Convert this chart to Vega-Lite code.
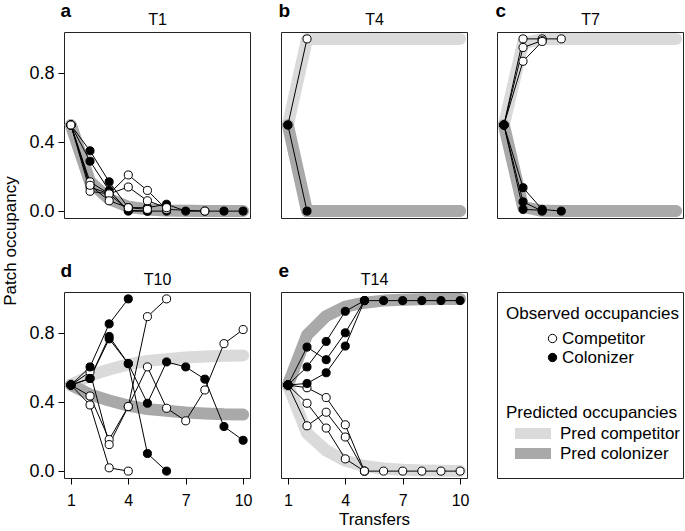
{
"$schema": "https://vega.github.io/schema/vega-lite/v6.json",
"padding": {"left": 2, "top": 0, "right": 2, "bottom": 2},
"background": "white",
"config": {
  "font": "Liberation Sans",
  "view": {"stroke": "#222", "strokeWidth": 1},
  "axis": {"labelColor": "black", "titleColor": "black", "tickColor": "black", "tickWidth": 1, "grid": false, "titleFontWeight": 400},
  "axisTop": {"titleFontSize": 16, "titleFontWeight": 400},
  "legend": {"labelColor": "black", "titleColor": "black"},
  "title": {"color": "black"}
},
"title": {"text": "Patch occupancy", "orient": "left", "anchor": "middle", "fontSize": 17, "fontWeight": "normal", "offset": 8, "dx": 23},
"columns": 3,
"spacing": {"row": 39, "column": 24},
"datasets": {
"pred": [
{"p":"T1","s":"Pred competitor","x":1,"y":0.5},{"p":"T1","s":"Pred competitor","x":2,"y":0.17},{"p":"T1","s":"Pred competitor","x":3,"y":0.07},{"p":"T1","s":"Pred competitor","x":4,"y":0.025},{"p":"T1","s":"Pred competitor","x":5,"y":0.01},{"p":"T1","s":"Pred competitor","x":6,"y":0.004},{"p":"T1","s":"Pred competitor","x":7,"y":0.002},{"p":"T1","s":"Pred competitor","x":8,"y":0.001},{"p":"T1","s":"Pred competitor","x":9,"y":0},{"p":"T1","s":"Pred competitor","x":10,"y":0},
{"p":"T1","s":"Pred colonizer","x":1,"y":0.5},{"p":"T1","s":"Pred colonizer","x":2,"y":0.17},{"p":"T1","s":"Pred colonizer","x":3,"y":0.07},{"p":"T1","s":"Pred colonizer","x":4,"y":0.025},{"p":"T1","s":"Pred colonizer","x":5,"y":0.01},{"p":"T1","s":"Pred colonizer","x":6,"y":0.004},{"p":"T1","s":"Pred colonizer","x":7,"y":0.002},{"p":"T1","s":"Pred colonizer","x":8,"y":0.001},{"p":"T1","s":"Pred colonizer","x":9,"y":0},{"p":"T1","s":"Pred colonizer","x":10,"y":0},
{"p":"T4","s":"Pred competitor","x":1,"y":0.5},{"p":"T4","s":"Pred competitor","x":2,"y":1},{"p":"T4","s":"Pred competitor","x":3,"y":1},{"p":"T4","s":"Pred competitor","x":4,"y":1},{"p":"T4","s":"Pred competitor","x":5,"y":1},{"p":"T4","s":"Pred competitor","x":6,"y":1},{"p":"T4","s":"Pred competitor","x":7,"y":1},{"p":"T4","s":"Pred competitor","x":8,"y":1},{"p":"T4","s":"Pred competitor","x":9,"y":1},{"p":"T4","s":"Pred competitor","x":10,"y":1},
{"p":"T4","s":"Pred colonizer","x":1,"y":0.5},{"p":"T4","s":"Pred colonizer","x":2,"y":0},{"p":"T4","s":"Pred colonizer","x":3,"y":0},{"p":"T4","s":"Pred colonizer","x":4,"y":0},{"p":"T4","s":"Pred colonizer","x":5,"y":0},{"p":"T4","s":"Pred colonizer","x":6,"y":0},{"p":"T4","s":"Pred colonizer","x":7,"y":0},{"p":"T4","s":"Pred colonizer","x":8,"y":0},{"p":"T4","s":"Pred colonizer","x":9,"y":0},{"p":"T4","s":"Pred colonizer","x":10,"y":0},
{"p":"T7","s":"Pred competitor","x":1,"y":0.5},{"p":"T7","s":"Pred competitor","x":2,"y":0.975},{"p":"T7","s":"Pred competitor","x":3,"y":0.998},{"p":"T7","s":"Pred competitor","x":4,"y":1},{"p":"T7","s":"Pred competitor","x":5,"y":1},{"p":"T7","s":"Pred competitor","x":6,"y":1},{"p":"T7","s":"Pred competitor","x":7,"y":1},{"p":"T7","s":"Pred competitor","x":8,"y":1},{"p":"T7","s":"Pred competitor","x":9,"y":1},{"p":"T7","s":"Pred competitor","x":10,"y":1},
{"p":"T7","s":"Pred colonizer","x":1,"y":0.5},{"p":"T7","s":"Pred colonizer","x":2,"y":0.025},{"p":"T7","s":"Pred colonizer","x":3,"y":0.002},{"p":"T7","s":"Pred colonizer","x":4,"y":0},{"p":"T7","s":"Pred colonizer","x":5,"y":0},{"p":"T7","s":"Pred colonizer","x":6,"y":0},{"p":"T7","s":"Pred colonizer","x":7,"y":0},{"p":"T7","s":"Pred colonizer","x":8,"y":0},{"p":"T7","s":"Pred colonizer","x":9,"y":0},{"p":"T7","s":"Pred colonizer","x":10,"y":0},
{"p":"T10","s":"Pred competitor","x":1,"y":0.5},{"p":"T10","s":"Pred competitor","x":2,"y":0.555},{"p":"T10","s":"Pred competitor","x":3,"y":0.59},{"p":"T10","s":"Pred competitor","x":4,"y":0.62},{"p":"T10","s":"Pred competitor","x":5,"y":0.64},{"p":"T10","s":"Pred competitor","x":6,"y":0.65},{"p":"T10","s":"Pred competitor","x":7,"y":0.66},{"p":"T10","s":"Pred competitor","x":8,"y":0.665},{"p":"T10","s":"Pred competitor","x":9,"y":0.67},{"p":"T10","s":"Pred competitor","x":10,"y":0.672},
{"p":"T10","s":"Pred colonizer","x":1,"y":0.5},{"p":"T10","s":"Pred colonizer","x":2,"y":0.445},{"p":"T10","s":"Pred colonizer","x":3,"y":0.41},{"p":"T10","s":"Pred colonizer","x":4,"y":0.38},{"p":"T10","s":"Pred colonizer","x":5,"y":0.36},{"p":"T10","s":"Pred colonizer","x":6,"y":0.35},{"p":"T10","s":"Pred colonizer","x":7,"y":0.34},{"p":"T10","s":"Pred colonizer","x":8,"y":0.335},{"p":"T10","s":"Pred colonizer","x":9,"y":0.33},{"p":"T10","s":"Pred colonizer","x":10,"y":0.328},
{"p":"T14","s":"Pred competitor","x":1,"y":0.5},{"p":"T14","s":"Pred competitor","x":2,"y":0.22},{"p":"T14","s":"Pred competitor","x":3,"y":0.12},{"p":"T14","s":"Pred competitor","x":4,"y":0.06},{"p":"T14","s":"Pred competitor","x":5,"y":0.03},{"p":"T14","s":"Pred competitor","x":6,"y":0.015},{"p":"T14","s":"Pred competitor","x":7,"y":0.008},{"p":"T14","s":"Pred competitor","x":8,"y":0.004},{"p":"T14","s":"Pred competitor","x":9,"y":0.002},{"p":"T14","s":"Pred competitor","x":10,"y":0.001},
{"p":"T14","s":"Pred colonizer","x":1,"y":0.5},{"p":"T14","s":"Pred colonizer","x":2,"y":0.79},{"p":"T14","s":"Pred colonizer","x":3,"y":0.9},{"p":"T14","s":"Pred colonizer","x":4,"y":0.955},{"p":"T14","s":"Pred colonizer","x":5,"y":0.978},{"p":"T14","s":"Pred colonizer","x":6,"y":0.99},{"p":"T14","s":"Pred colonizer","x":7,"y":0.995},{"p":"T14","s":"Pred colonizer","x":8,"y":0.998},{"p":"T14","s":"Pred colonizer","x":9,"y":0.999},{"p":"T14","s":"Pred colonizer","x":10,"y":1}
],
"obs": [
{"p":"T1","s":"Colonizer","r":1,"x":1,"y":0.5},{"p":"T1","s":"Colonizer","r":1,"x":2,"y":0.35},{"p":"T1","s":"Colonizer","r":1,"x":3,"y":0.17},{"p":"T1","s":"Colonizer","r":1,"x":4,"y":0.02},{"p":"T1","s":"Colonizer","r":1,"x":5,"y":0.02},{"p":"T1","s":"Colonizer","r":1,"x":6,"y":0.04},{"p":"T1","s":"Colonizer","r":1,"x":7,"y":0},{"p":"T1","s":"Colonizer","r":1,"x":8,"y":0},{"p":"T1","s":"Colonizer","r":1,"x":9,"y":0},{"p":"T1","s":"Colonizer","r":1,"x":10,"y":0},
{"p":"T1","s":"Colonizer","r":2,"x":1,"y":0.5},{"p":"T1","s":"Colonizer","r":2,"x":2,"y":0.29},{"p":"T1","s":"Colonizer","r":2,"x":3,"y":0.12},{"p":"T1","s":"Colonizer","r":2,"x":4,"y":0},{"p":"T1","s":"Colonizer","r":2,"x":5,"y":0},{"p":"T1","s":"Colonizer","r":2,"x":6,"y":0},
{"p":"T1","s":"Colonizer","r":3,"x":1,"y":0.5},{"p":"T1","s":"Colonizer","r":3,"x":2,"y":0.14},{"p":"T1","s":"Colonizer","r":3,"x":3,"y":0.1},{"p":"T1","s":"Colonizer","r":3,"x":4,"y":0.005},{"p":"T1","s":"Colonizer","r":3,"x":5,"y":0},
{"p":"T1","s":"Competitor","r":1,"x":1,"y":0.5},{"p":"T1","s":"Competitor","r":1,"x":2,"y":0.17},{"p":"T1","s":"Competitor","r":1,"x":3,"y":0.1},{"p":"T1","s":"Competitor","r":1,"x":4,"y":0.21},{"p":"T1","s":"Competitor","r":1,"x":5,"y":0.12},{"p":"T1","s":"Competitor","r":1,"x":6,"y":0.01},{"p":"T1","s":"Competitor","r":1,"x":8,"y":0},
{"p":"T1","s":"Competitor","r":2,"x":1,"y":0.5},{"p":"T1","s":"Competitor","r":2,"x":2,"y":0.115},{"p":"T1","s":"Competitor","r":2,"x":3,"y":0.1},{"p":"T1","s":"Competitor","r":2,"x":4,"y":0.14},{"p":"T1","s":"Competitor","r":2,"x":5,"y":0.06},{"p":"T1","s":"Competitor","r":2,"x":6,"y":0.02},
{"p":"T1","s":"Competitor","r":3,"x":1,"y":0.5},{"p":"T1","s":"Competitor","r":3,"x":2,"y":0.15},{"p":"T1","s":"Competitor","r":3,"x":3,"y":0.06},{"p":"T1","s":"Competitor","r":3,"x":4,"y":0.02},{"p":"T1","s":"Competitor","r":3,"x":5,"y":0.01},
{"p":"T4","s":"Competitor","r":1,"x":1,"y":0.5},{"p":"T4","s":"Competitor","r":1,"x":2,"y":1},
{"p":"T4","s":"Colonizer","r":1,"x":1,"y":0.5},{"p":"T4","s":"Colonizer","r":1,"x":2,"y":0},
{"p":"T7","s":"Competitor","r":1,"x":1,"y":0.5},{"p":"T7","s":"Competitor","r":1,"x":2,"y":1},{"p":"T7","s":"Competitor","r":1,"x":3,"y":1},{"p":"T7","s":"Competitor","r":1,"x":4,"y":1},
{"p":"T7","s":"Competitor","r":2,"x":1,"y":0.5},{"p":"T7","s":"Competitor","r":2,"x":2,"y":0.95},{"p":"T7","s":"Competitor","r":2,"x":3,"y":0.99},
{"p":"T7","s":"Competitor","r":3,"x":1,"y":0.5},{"p":"T7","s":"Competitor","r":3,"x":2,"y":0.87},{"p":"T7","s":"Competitor","r":3,"x":3,"y":0.985},
{"p":"T7","s":"Colonizer","r":1,"x":1,"y":0.5},{"p":"T7","s":"Colonizer","r":1,"x":2,"y":0.136},{"p":"T7","s":"Colonizer","r":1,"x":3,"y":0.01},{"p":"T7","s":"Colonizer","r":1,"x":4,"y":0},
{"p":"T7","s":"Colonizer","r":2,"x":1,"y":0.5},{"p":"T7","s":"Colonizer","r":2,"x":2,"y":0.054},{"p":"T7","s":"Colonizer","r":2,"x":3,"y":0},
{"p":"T7","s":"Colonizer","r":3,"x":1,"y":0.5},{"p":"T7","s":"Colonizer","r":3,"x":2,"y":0.01},{"p":"T7","s":"Colonizer","r":3,"x":3,"y":0.005},
{"p":"T10","s":"Competitor","r":1,"x":1,"y":0.5},{"p":"T10","s":"Competitor","r":1,"x":2,"y":0.384},{"p":"T10","s":"Competitor","r":1,"x":3,"y":0.019},{"p":"T10","s":"Competitor","r":1,"x":4,"y":0},
{"p":"T10","s":"Competitor","r":2,"x":1,"y":0.5},{"p":"T10","s":"Competitor","r":2,"x":2,"y":0.436},{"p":"T10","s":"Competitor","r":2,"x":3,"y":0.183},{"p":"T10","s":"Competitor","r":2,"x":4,"y":0.375},{"p":"T10","s":"Competitor","r":2,"x":5,"y":0.897},{"p":"T10","s":"Competitor","r":2,"x":6,"y":1},
{"p":"T10","s":"Competitor","r":3,"x":1,"y":0.5},{"p":"T10","s":"Competitor","r":3,"x":2,"y":0.576},{"p":"T10","s":"Competitor","r":3,"x":3,"y":0.154},{"p":"T10","s":"Competitor","r":3,"x":4,"y":0.375},{"p":"T10","s":"Competitor","r":3,"x":5,"y":0.605},{"p":"T10","s":"Competitor","r":3,"x":6,"y":0.365},{"p":"T10","s":"Competitor","r":3,"x":7,"y":0.292},{"p":"T10","s":"Competitor","r":3,"x":8,"y":0.471},{"p":"T10","s":"Competitor","r":3,"x":9,"y":0.74},{"p":"T10","s":"Competitor","r":3,"x":10,"y":0.822},
{"p":"T10","s":"Colonizer","r":1,"x":1,"y":0.5},{"p":"T10","s":"Colonizer","r":1,"x":2,"y":0.605},{"p":"T10","s":"Colonizer","r":1,"x":3,"y":0.855},{"p":"T10","s":"Colonizer","r":1,"x":4,"y":1},
{"p":"T10","s":"Colonizer","r":2,"x":1,"y":0.5},{"p":"T10","s":"Colonizer","r":2,"x":2,"y":0.538},{"p":"T10","s":"Colonizer","r":2,"x":3,"y":0.782},{"p":"T10","s":"Colonizer","r":2,"x":4,"y":0.624},{"p":"T10","s":"Colonizer","r":2,"x":5,"y":0.102},{"p":"T10","s":"Colonizer","r":2,"x":6,"y":0},
{"p":"T10","s":"Colonizer","r":3,"x":1,"y":0.5},{"p":"T10","s":"Colonizer","r":3,"x":2,"y":0.538},{"p":"T10","s":"Colonizer","r":3,"x":3,"y":0.768},{"p":"T10","s":"Colonizer","r":3,"x":4,"y":0.624},{"p":"T10","s":"Colonizer","r":3,"x":5,"y":0.394},{"p":"T10","s":"Colonizer","r":3,"x":6,"y":0.634},{"p":"T10","s":"Colonizer","r":3,"x":7,"y":0.605},{"p":"T10","s":"Colonizer","r":3,"x":8,"y":0.534},{"p":"T10","s":"Colonizer","r":3,"x":9,"y":0.259},{"p":"T10","s":"Colonizer","r":3,"x":10,"y":0.179},
{"p":"T14","s":"Competitor","r":1,"x":1,"y":0.5},{"p":"T14","s":"Competitor","r":1,"x":2,"y":0.263},{"p":"T14","s":"Competitor","r":1,"x":3,"y":0.342},{"p":"T14","s":"Competitor","r":1,"x":4,"y":0.198},{"p":"T14","s":"Competitor","r":1,"x":5,"y":0},{"p":"T14","s":"Competitor","r":1,"x":6,"y":0},{"p":"T14","s":"Competitor","r":1,"x":7,"y":0},{"p":"T14","s":"Competitor","r":1,"x":8,"y":0},{"p":"T14","s":"Competitor","r":1,"x":9,"y":0},{"p":"T14","s":"Competitor","r":1,"x":10,"y":0},
{"p":"T14","s":"Competitor","r":2,"x":1,"y":0.5},{"p":"T14","s":"Competitor","r":2,"x":2,"y":0.394},{"p":"T14","s":"Competitor","r":2,"x":3,"y":0.25},{"p":"T14","s":"Competitor","r":2,"x":4,"y":0.071},{"p":"T14","s":"Competitor","r":2,"x":5,"y":0},
{"p":"T14","s":"Competitor","r":3,"x":1,"y":0.5},{"p":"T14","s":"Competitor","r":3,"x":2,"y":0.484},{"p":"T14","s":"Competitor","r":3,"x":3,"y":0.427},{"p":"T14","s":"Competitor","r":3,"x":4,"y":0.269},{"p":"T14","s":"Competitor","r":3,"x":5,"y":0},
{"p":"T14","s":"Colonizer","r":1,"x":1,"y":0.5},{"p":"T14","s":"Colonizer","r":1,"x":2,"y":0.72},{"p":"T14","s":"Colonizer","r":1,"x":3,"y":0.647},{"p":"T14","s":"Colonizer","r":1,"x":4,"y":0.803},{"p":"T14","s":"Colonizer","r":1,"x":5,"y":0.99},{"p":"T14","s":"Colonizer","r":1,"x":6,"y":0.99},{"p":"T14","s":"Colonizer","r":1,"x":7,"y":0.99},{"p":"T14","s":"Colonizer","r":1,"x":8,"y":0.99},{"p":"T14","s":"Colonizer","r":1,"x":9,"y":0.99},{"p":"T14","s":"Colonizer","r":1,"x":10,"y":0.99},
{"p":"T14","s":"Colonizer","r":2,"x":1,"y":0.5},{"p":"T14","s":"Colonizer","r":2,"x":2,"y":0.605},{"p":"T14","s":"Colonizer","r":2,"x":3,"y":0.753},{"p":"T14","s":"Colonizer","r":2,"x":4,"y":0.928},{"p":"T14","s":"Colonizer","r":2,"x":5,"y":0.99},
{"p":"T14","s":"Colonizer","r":3,"x":1,"y":0.5},{"p":"T14","s":"Colonizer","r":3,"x":2,"y":0.509},{"p":"T14","s":"Colonizer","r":3,"x":3,"y":0.571},{"p":"T14","s":"Colonizer","r":3,"x":4,"y":0.726},{"p":"T14","s":"Colonizer","r":3,"x":5,"y":0.99}
],
"box": [{"k": 1}]
},
"concat": [
{
 "width": 186, "height": 186,
 "layer": [
  {"data": {"name": "pred"}, "transform": [{"filter": "datum.p=='T1' && datum.s=='Pred competitor'"}],
   "mark": {"type": "line", "strokeWidth": 12, "strokeCap": "round", "strokeJoin": "round"},
   "encoding": {
    "x": {"field": "x", "type": "quantitative", "scale": {"domain": [0.64, 10.36], "nice": false, "zero": false},
          "axis": {"orient": "top", "title": "T1", "labels": false, "ticks": false, "domain": false, "titleFontSize": 16, "titleFontWeight": 400, "titleBaseline": "alphabetic", "titlePadding": 8}},
    "y": {"field": "y", "type": "quantitative", "scale": {"domain": [-0.04, 1.04], "nice": false, "zero": false},
          "axis": {"values": [0, 0.2, 0.4, 0.6, 0.8, 1], "labelExpr": "round(datum.value*10)%4==0 ? format(datum.value,'.1f') : ''", "tickSize": 6, "domain": false, "labelFontSize": 18, "labelPadding": 4, "title": "a", "titleAngle": 0, "titleX": -4, "titleY": -16, "titleAlign": "left", "titleBaseline": "alphabetic", "titleFontSize": 19, "titleFontWeight": "bold"}},
    "stroke": {"field": "s", "type": "nominal", "scale": {"domain": ["Pred competitor", "Pred colonizer"], "range": ["#dadada", "#a9a9a9"]},
               "legend": {"title": "Predicted occupancies", "orient": "none", "legendX": 442, "legendY": 373, "symbolType": "stroke", "symbolStrokeWidth": 11, "symbolSize": 1300, "symbolOffset": 3, "labelOffset": 3, "clipHeight": 17, "titleFontSize": 17, "labelFontSize": 17, "titleFontWeight": "normal", "titlePadding": 3, "rowPadding": 2}}
   }},
  {"data": {"name": "pred"}, "transform": [{"filter": "datum.p=='T1' && datum.s=='Pred colonizer'"}],
   "mark": {"type": "line", "strokeWidth": 12, "strokeCap": "round", "strokeJoin": "round"},
   "encoding": {"x": {"field": "x", "type": "quantitative"}, "y": {"field": "y", "type": "quantitative"}, "stroke": {"field": "s", "type": "nominal"}}},
  {"data": {"name": "obs"}, "transform": [{"filter": "datum.p=='T1'"}],
   "mark": {"type": "line", "stroke": "black", "strokeWidth": 1},
   "encoding": {"x": {"field": "x", "type": "quantitative"}, "y": {"field": "y", "type": "quantitative"}, "detail": [{"field": "s"}, {"field": "r"}]}},
  {"data": {"name": "obs"}, "transform": [{"filter": "datum.p=='T1'"}],
   "mark": {"type": "point", "shape": "circle", "filled": true, "size": 65, "stroke": "black", "strokeWidth": 1, "opacity": 1},
   "encoding": {"x": {"field": "x", "type": "quantitative"}, "y": {"field": "y", "type": "quantitative"},
    "fill": {"field": "s", "type": "nominal", "scale": {"domain": ["Competitor", "Colonizer"], "range": ["white", "black"]},
             "legend": {"title": "Observed occupancies", "orient": "none", "legendX": 442, "legendY": 274, "symbolType": "circle", "symbolSize": 70, "symbolStrokeColor": "black", "symbolStrokeWidth": 1, "symbolOffset": 38, "labelOffset": 1, "titleFontSize": 17, "labelFontSize": 17, "titleFontWeight": "normal", "titlePadding": 7, "rowPadding": 1}}}}
 ]
},
{
 "width": 186, "height": 186,
 "layer": [
  {"data": {"name": "pred"}, "transform": [{"filter": "datum.p=='T4' && datum.s=='Pred competitor'"}],
   "mark": {"type": "line", "strokeWidth": 12, "strokeCap": "round", "strokeJoin": "round"},
   "encoding": {
    "x": {"field": "x", "type": "quantitative", "scale": {"domain": [0.64, 10.36], "nice": false, "zero": false},
          "axis": {"orient": "top", "title": "T4", "labels": false, "ticks": false, "domain": false, "titleFontSize": 16, "titleFontWeight": 400, "titleBaseline": "alphabetic", "titlePadding": 8}},
    "y": {"field": "y", "type": "quantitative", "scale": {"domain": [-0.04, 1.04], "nice": false, "zero": false},
          "axis": {"labels": false, "ticks": false, "domain": false, "title": "b", "titleAngle": 0, "titleX": -3, "titleY": -16, "titleAlign": "left", "titleBaseline": "alphabetic", "titleFontSize": 19, "titleFontWeight": "bold"}},
    "stroke": {"field": "s", "type": "nominal"}}},
  {"data": {"name": "pred"}, "transform": [{"filter": "datum.p=='T4' && datum.s=='Pred colonizer'"}],
   "mark": {"type": "line", "strokeWidth": 12, "strokeCap": "round", "strokeJoin": "round"},
   "encoding": {"x": {"field": "x", "type": "quantitative"}, "y": {"field": "y", "type": "quantitative"}, "stroke": {"field": "s", "type": "nominal"}}},
  {"data": {"name": "obs"}, "transform": [{"filter": "datum.p=='T4'"}],
   "mark": {"type": "line", "stroke": "black", "strokeWidth": 1},
   "encoding": {"x": {"field": "x", "type": "quantitative"}, "y": {"field": "y", "type": "quantitative"}, "detail": [{"field": "s"}, {"field": "r"}]}},
  {"data": {"name": "obs"}, "transform": [{"filter": "datum.p=='T4'"}],
   "mark": {"type": "point", "shape": "circle", "filled": true, "size": 65, "stroke": "black", "strokeWidth": 1, "opacity": 1},
   "encoding": {"x": {"field": "x", "type": "quantitative"}, "y": {"field": "y", "type": "quantitative"}, "fill": {"field": "s", "type": "nominal"}}}
 ]
},
{
 "width": 186, "height": 186,
 "layer": [
  {"data": {"name": "pred"}, "transform": [{"filter": "datum.p=='T7' && datum.s=='Pred competitor'"}],
   "mark": {"type": "line", "strokeWidth": 12, "strokeCap": "round", "strokeJoin": "round"},
   "encoding": {
    "x": {"field": "x", "type": "quantitative", "scale": {"domain": [0.64, 10.36], "nice": false, "zero": false},
          "axis": {"orient": "top", "title": "T7", "labels": false, "ticks": false, "domain": false, "titleFontSize": 16, "titleFontWeight": 400, "titleBaseline": "alphabetic", "titlePadding": 8}},
    "y": {"field": "y", "type": "quantitative", "scale": {"domain": [-0.04, 1.04], "nice": false, "zero": false},
          "axis": {"labels": false, "ticks": false, "domain": false, "title": "c", "titleAngle": 0, "titleX": -2, "titleY": -16, "titleAlign": "left", "titleBaseline": "alphabetic", "titleFontSize": 19, "titleFontWeight": "bold"}},
    "stroke": {"field": "s", "type": "nominal"}}},
  {"data": {"name": "pred"}, "transform": [{"filter": "datum.p=='T7' && datum.s=='Pred colonizer'"}],
   "mark": {"type": "line", "strokeWidth": 12, "strokeCap": "round", "strokeJoin": "round"},
   "encoding": {"x": {"field": "x", "type": "quantitative"}, "y": {"field": "y", "type": "quantitative"}, "stroke": {"field": "s", "type": "nominal"}}},
  {"data": {"name": "obs"}, "transform": [{"filter": "datum.p=='T7'"}],
   "mark": {"type": "line", "stroke": "black", "strokeWidth": 1},
   "encoding": {"x": {"field": "x", "type": "quantitative"}, "y": {"field": "y", "type": "quantitative"}, "detail": [{"field": "s"}, {"field": "r"}]}},
  {"data": {"name": "obs"}, "transform": [{"filter": "datum.p=='T7'"}],
   "mark": {"type": "point", "shape": "circle", "filled": true, "size": 65, "stroke": "black", "strokeWidth": 1, "opacity": 1},
   "encoding": {"x": {"field": "x", "type": "quantitative"}, "y": {"field": "y", "type": "quantitative"}, "fill": {"field": "s", "type": "nominal"}}}
 ]
},
{
 "width": 186, "height": 186,
 "resolve": {"axis": {"x": "independent"}},
 "layer": [
  {"data": {"name": "pred"}, "transform": [{"filter": "datum.p=='T10' && datum.s=='Pred competitor'"}],
   "mark": {"type": "line", "strokeWidth": 12, "strokeCap": "round", "strokeJoin": "round"},
   "encoding": {
    "x": {"field": "x", "type": "quantitative", "scale": {"domain": [0.64, 10.36], "nice": false, "zero": false},
          "axis": {"orient": "bottom", "values": [1, 4, 7, 10], "format": "d", "tickSize": 6, "domain": false, "labelFontSize": 16, "labelPadding": 8, "title": null}},
    "y": {"field": "y", "type": "quantitative", "scale": {"domain": [-0.04, 1.04], "nice": false, "zero": false},
          "axis": {"values": [0, 0.2, 0.4, 0.6, 0.8, 1], "labelExpr": "round(datum.value*10)%4==0 ? format(datum.value,'.1f') : ''", "tickSize": 6, "domain": false, "labelFontSize": 18, "labelPadding": 4, "title": "d", "titleAngle": 0, "titleX": -4, "titleY": -16, "titleAlign": "left", "titleBaseline": "alphabetic", "titleFontSize": 19, "titleFontWeight": "bold"}},
    "stroke": {"field": "s", "type": "nominal"}}},
  {"data": {"name": "pred"}, "transform": [{"filter": "datum.p=='T10' && datum.s=='Pred colonizer'"}],
   "mark": {"type": "line", "strokeWidth": 12, "strokeCap": "round", "strokeJoin": "round"},
   "encoding": {"x": {"field": "x", "type": "quantitative", "axis": {"orient": "top", "title": "T10", "labels": false, "ticks": false, "domain": false, "titleFontSize": 16, "titleFontWeight": 400, "titleBaseline": "alphabetic", "titlePadding": 8}}, "y": {"field": "y", "type": "quantitative"}, "stroke": {"field": "s", "type": "nominal"}}},
  {"data": {"name": "obs"}, "transform": [{"filter": "datum.p=='T10'"}],
   "mark": {"type": "line", "stroke": "black", "strokeWidth": 1},
   "encoding": {"x": {"field": "x", "type": "quantitative", "axis": null}, "y": {"field": "y", "type": "quantitative"}, "detail": [{"field": "s"}, {"field": "r"}]}},
  {"data": {"name": "obs"}, "transform": [{"filter": "datum.p=='T10'"}],
   "mark": {"type": "point", "shape": "circle", "filled": true, "size": 65, "stroke": "black", "strokeWidth": 1, "opacity": 1},
   "encoding": {"x": {"field": "x", "type": "quantitative", "axis": null}, "y": {"field": "y", "type": "quantitative"}, "fill": {"field": "s", "type": "nominal"}}}
 ]
},
{
 "width": 186, "height": 186,
 "resolve": {"axis": {"x": "independent"}},
 "layer": [
  {"data": {"name": "pred"}, "transform": [{"filter": "datum.p=='T14' && datum.s=='Pred competitor'"}],
   "mark": {"type": "line", "strokeWidth": 12, "strokeCap": "round", "strokeJoin": "round"},
   "encoding": {
    "x": {"field": "x", "type": "quantitative", "scale": {"domain": [0.64, 10.36], "nice": false, "zero": false},
          "axis": {"orient": "bottom", "values": [1, 4, 7, 10], "format": "d", "tickSize": 6, "domain": false, "labelFontSize": 16, "labelPadding": 8, "title": "Transfers", "titleFontSize": 17, "titleFontWeight": "normal", "titlePadding": 3}},
    "y": {"field": "y", "type": "quantitative", "scale": {"domain": [-0.04, 1.04], "nice": false, "zero": false},
          "axis": {"labels": false, "ticks": false, "domain": false, "title": "e", "titleAngle": 0, "titleX": -3, "titleY": -16, "titleAlign": "left", "titleBaseline": "alphabetic", "titleFontSize": 19, "titleFontWeight": "bold"}},
    "stroke": {"field": "s", "type": "nominal"}}},
  {"data": {"name": "pred"}, "transform": [{"filter": "datum.p=='T14' && datum.s=='Pred colonizer'"}],
   "mark": {"type": "line", "strokeWidth": 12, "strokeCap": "round", "strokeJoin": "round"},
   "encoding": {"x": {"field": "x", "type": "quantitative", "axis": {"orient": "top", "title": "T14", "labels": false, "ticks": false, "domain": false, "titleFontSize": 16, "titleFontWeight": 400, "titleBaseline": "alphabetic", "titlePadding": 8}}, "y": {"field": "y", "type": "quantitative"}, "stroke": {"field": "s", "type": "nominal"}}},
  {"data": {"name": "obs"}, "transform": [{"filter": "datum.p=='T14'"}],
   "mark": {"type": "line", "stroke": "black", "strokeWidth": 1},
   "encoding": {"x": {"field": "x", "type": "quantitative", "axis": null}, "y": {"field": "y", "type": "quantitative"}, "detail": [{"field": "s"}, {"field": "r"}]}},
  {"data": {"name": "obs"}, "transform": [{"filter": "datum.p=='T14'"}],
   "mark": {"type": "point", "shape": "circle", "filled": true, "size": 65, "stroke": "black", "strokeWidth": 1, "opacity": 1},
   "encoding": {"x": {"field": "x", "type": "quantitative", "axis": null}, "y": {"field": "y", "type": "quantitative"}, "fill": {"field": "s", "type": "nominal"}}}
 ]
},
{
 "width": 186, "height": 186,
 "data": {"name": "box"},
 "mark": {"type": "point", "opacity": 0},
 "encoding": {
  "x": {"field": "k", "type": "quantitative", "axis": null},
  "y": {"field": "k", "type": "quantitative", "axis": null}
 }
}
]
}
